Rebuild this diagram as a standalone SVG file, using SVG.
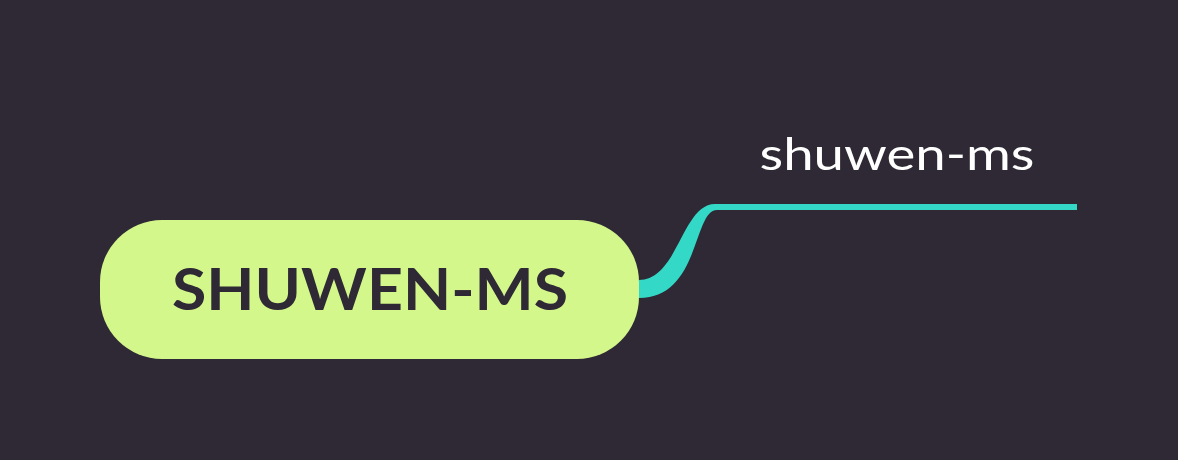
<svg xmlns="http://www.w3.org/2000/svg" width="1178" height="460" viewBox="0 0 1178 460">
<style>
.bg{fill:#2f2935}
.root{fill:#d3f78a}
.rootText{font-family:"Lato","Noto Sans",sans-serif;font-weight:bold;font-size:58px;fill:#2f2935}
.branch{fill:#33d9c6}
.label{font-family:"Lato","Noto Sans",sans-serif;font-weight:normal;font-size:44px;fill:#ffffff}
</style>
<rect class="bg" x="0" y="0" width="1178" height="460"/>
<g id="connectors">
<path class="branch" d="M 639 280 C 678 280, 682 204, 715 204 L 1077 204 L 1077 210 L 717 210 C 693 210, 700 298, 639 298 Z"/>
</g>
<g id="node-root">
<rect class="root" x="100" y="220" width="539" height="139" rx="62" ry="62"/>
<text class="rootText" x="370" y="310" text-anchor="middle" textLength="396" lengthAdjust="spacingAndGlyphs">SHUWEN-MS</text>
</g>
<g id="node-child">
<text class="label" x="897" y="170" text-anchor="middle" textLength="275" lengthAdjust="spacingAndGlyphs">shuwen-ms</text>
</g>
</svg>
